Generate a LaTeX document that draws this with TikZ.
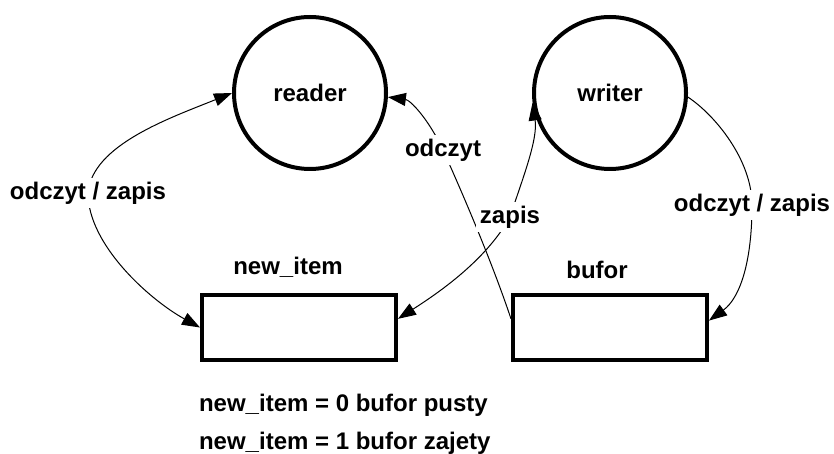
\documentclass[tikz,border=0pt]{standalone}
\usepackage{fontspec}
\setmainfont{Liberation Sans}
\usetikzlibrary{arrows.meta,calc}

\begin{document}
\begin{tikzpicture}[x=0.5pt,y=-0.5pt,
    font=\bfseries\fontsize{12pt}{14pt}\selectfont,
    >={Triangle[length=9pt,width=6.5pt]},
    proc/.style={draw,circle,line width=2pt,minimum size=76pt,inner sep=0pt},
    buf/.style={draw,rectangle,line width=2pt,minimum width=97pt,minimum height=32.5pt,inner sep=0pt},
    link/.style={line width=0.5pt},
    lbl/.style={fill=white,inner sep=2pt}]
    \useasboundingbox (0,0) rectangle (834,454);
    %%Processes
    \node[proc] (reader) at (310,93) {reader};
    \node[proc] (writer) at (610,93) {writer};
    %%Shared variables
    \node[buf] (newitem) at (299,327.5) {};
    \node[buf] (bufor) at (610,327.5) {};
    \node (newitemlbl) at (288,267) {new\_item};
    \node (buforlbl) at (597,270) {bufor};
    %%Access
    \draw[link,<->] (reader.west) .. controls (170,118) and (92,145) .. (88,193)
        node[lbl] (rwlbl) {odczyt / zapis}
        .. controls (88,245) and (150,300) .. (newitem.west);
    \draw[link,->] (bufor.175) .. controls (492,262) and (462,192) .. (443,150)
        node[lbl] (readlbl) {odczyt}
        .. controls (428,118) and (410,100) .. (reader.-3);
    \draw[link,<->] (writer.187) .. controls (538,140) and (522,180) .. (510,217)
        node[lbl] (writelbl) {zapis}
        .. controls (485,262) and (435,295) .. (newitem.5);
    \draw[link,->] (writer.-3) .. controls (715,115) and (752,160) .. (752,205)
        node[lbl] (wwlbl) {odczyt / zapis}
        .. controls (752,262) and (740,298) .. (bufor.4);
    %%Legend
    \node[anchor=base west] (stan0) at (192,411) {new\_item = 0 bufor pusty};
    \node[anchor=base west] (stan1) at (192,449) {new\_item = 1 bufor zajety};
\end{tikzpicture}
\end{document}
